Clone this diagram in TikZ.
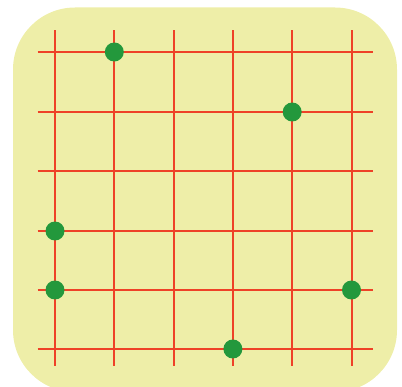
\documentclass[tikz,border=0pt]{standalone}
\definecolor{bgc}{HTML}{EEEEA8}
\definecolor{gridc}{HTML}{EE4227}
\definecolor{dotc}{HTML}{23983C}
\begin{document}
\begin{tikzpicture}[x=1pt,y=-1pt,
  gridline/.style={draw=gridc,line width=2pt},
  stone/.style={circle,fill=dotc,minimum size=19pt,inner sep=0pt}]
\useasboundingbox (0,0) rectangle (402,387);
\begin{scope}
\clip (0,0) rectangle (402,387);
\fill[bgc,rounded corners=62pt] (13,7.5) rectangle (397,392);
\end{scope}
\foreach \x in {55,114.3,173.6,232.9,292.2,351.5}
  \draw[gridline] (\x,30.5) -- (\x,366);
\foreach \y in {52.5,112,171.5,231,290.5,349.5}
  \draw[gridline] (37.5,\y) -- (373,\y);
\node[stone] (s1) at (114.3,52) {};
\node[stone] (s2) at (292.2,112) {};
\node[stone] (s3) at (55,231) {};
\node[stone] (s4) at (55,290) {};
\node[stone] (s5) at (351.5,290) {};
\node[stone] (s6) at (232.9,349) {};
\end{tikzpicture}
\end{document}
